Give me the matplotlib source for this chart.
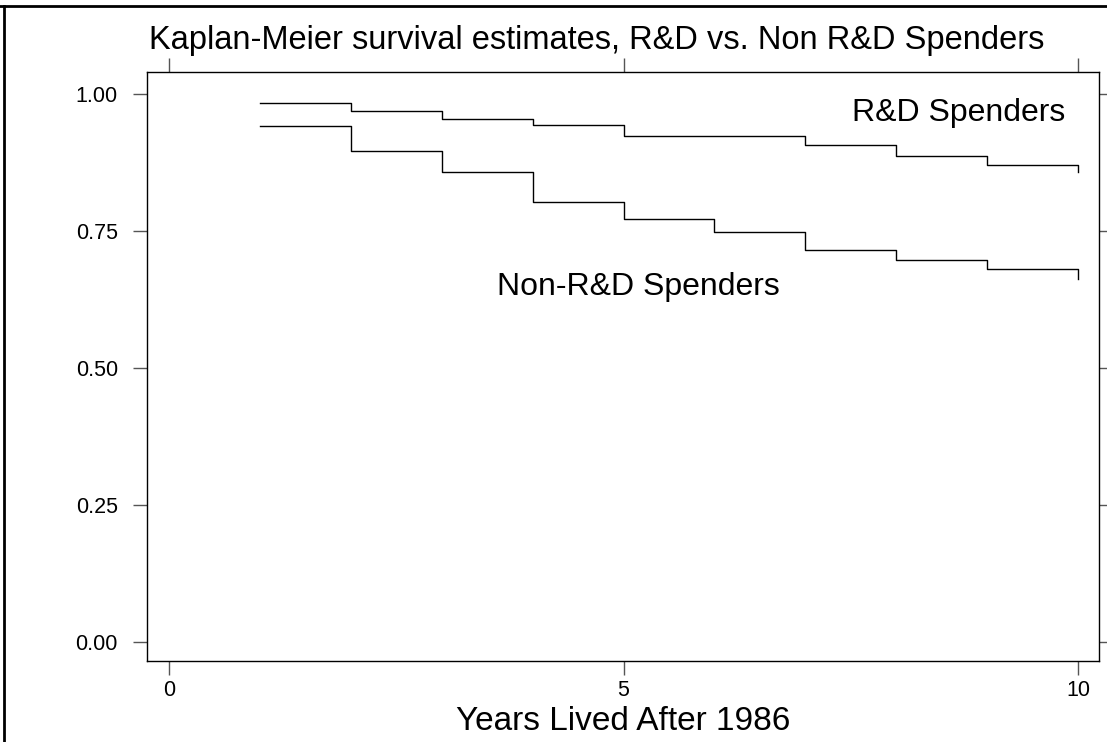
import matplotlib.pyplot as plt
from matplotlib.lines import Line2D

plt.rcParams['font.family'] = ['Liberation Sans', 'DejaVu Sans']

# Kaplan-Meier step estimates
years = [1, 2, 3, 4, 5, 6, 7, 8, 9, 10]
rd_survival = [0.984, 0.969, 0.955, 0.945, 0.925, 0.925, 0.907, 0.888, 0.872, 0.859]
nonrd_survival = [0.942, 0.896, 0.859, 0.804, 0.773, 0.749, 0.716, 0.698, 0.681, 0.663]

xticks = [0, 5, 10]
yticks = [0.0, 0.25, 0.5, 0.75, 1.0]
ytick_labels = ["0.00", "0.25", "0.50", "0.75", "1.00"]

fig = plt.figure(figsize=(11.07, 7.42), dpi=100)
ax = fig.add_axes([0.1328, 0.1092, 0.86, 0.7938])

ax.step(years, rd_survival, where='post', color='black', lw=1.0)
ax.step(years, nonrd_survival, where='post', color='black', lw=1.0)

ax.set_xlim(-0.242, 10.231)
ax.set_ylim(-0.0347, 1.0411)

ax.set_xticks(xticks)
ax.set_yticks(yticks)
ax.set_yticklabels(ytick_labels)
ax.tick_params(axis='both', direction='out', length=10, width=1, color='#555555',
               labelsize=15.5, top=True, right=True, labeltop=False, labelright=False)
ax.tick_params(axis='x', pad=4)
ax.tick_params(axis='y', pad=11)
for s in ax.spines.values():
    s.set_linewidth(1.0)

ax.text(7.51, 0.966, "R&D Spenders", fontsize=23, ha='left', va='center')
ax.text(3.61, 0.648, "Non-R&D Spenders", fontsize=23, ha='left', va='center')

ax.set_xlabel("Years Lived After 1986", fontsize=24, labelpad=3)

fig.text(597 / 1107, 1 - 40 / 742, "Kaplan-Meier survival estimates, R&D vs. Non R&D Spenders",
         fontsize=23.5, ha='center', va='center')

# outer page frame
fig.add_artist(Line2D([0, 1], [1 - 6 / 742, 1 - 6 / 742], color='black', lw=2,
                      transform=fig.transFigure))
fig.add_artist(Line2D([4 / 1107, 4 / 1107], [0, 1 - 6 / 742], color='black', lw=2,
                      transform=fig.transFigure))

fig.savefig("out.png", dpi=100)
